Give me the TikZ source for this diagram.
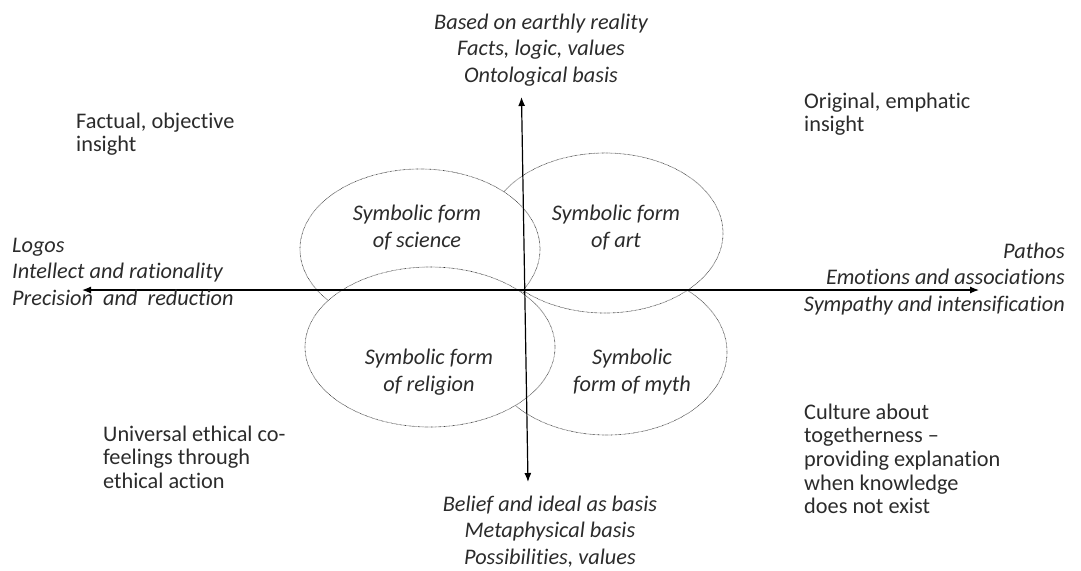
\documentclass[tikz,border=0pt]{standalone}
\usepackage{fontspec}
\setmainfont{Carlito}[Ligatures=NoCommon]
\usetikzlibrary{arrows.meta}
\definecolor{txt}{HTML}{2B2B2B}
\begin{document}
\begin{tikzpicture}[x=1pt,y=-1pt,
  lbl/.style={inner sep=0pt, text=txt, font=\fontsize{22.3}{23.7}\selectfont},
  ilbl/.style={inner sep=0pt, text=txt, font=\fontsize{22.3}{26.7}\selectfont\itshape},
  form/.style={draw=black!80, fill=white, line width=0.65pt, dash pattern=on 0.6pt off 0.7pt},
  formtxt/.style={inner sep=0pt, align=center, text=txt, font=\fontsize{22.3}{27}\selectfont\itshape},
  axis/.style={line width=1.2pt, {Latex[length=9pt,width=7pt]}-{Latex[length=9pt,width=7pt]}}]
\useasboundingbox (0,0) rectangle (1081,570);
% ellipses, stacked: myth, art, science, religion
\draw[form] (607,352) ellipse [x radius=120, y radius=83];
\node[formtxt] (myth) at (632,372) {Symbolic\\form of myth};
\draw[form] (605,233) ellipse [x radius=118, y radius=80];
\node[formtxt] (art) at (616,228) {Symbolic form\\of art};
\draw[form] (420,249) ellipse [x radius=120, y radius=80];
\node[formtxt] (sci) at (417,228) {Symbolic form\\of science};
\draw[form] (430,347) ellipse [x radius=125, y radius=80];
\node[formtxt] (rel) at (429,372) {Symbolic form\\of religion};
% axes
\coordinate (L) at (82,290);
\coordinate (R) at (979,290);
\coordinate (T) at (521.5,97);
\coordinate (B) at (528,482);
\draw[axis] (L) -- (R);
\draw[axis] (T) -- (B);
% axis labels
\node[ilbl, align=center, anchor=north] (top) at (541,13.5) {Based on earthly reality\\Facts, logic, values\\Ontological basis};
\node[ilbl, align=center, anchor=north] (bot) at (550,495.5) {Belief and ideal as basis\\Metaphysical basis\\Possibilities, values};
\node[ilbl, align=left, anchor=north west] (left) at (12,237.5) {Logos\\Intellect and rationality\\Precision\ \ and\ \ reduction};
\node[ilbl, align=right, anchor=north east] (right) at (1065,242.5) {Pathos\\Emotions and associations\\Sympathy and intensification};
% quadrant labels
\node[lbl, align=left, anchor=north west] (tl) at (76,112.5) {Factual, objective\\insight};
\node[lbl, align=left, anchor=north west] (tr) at (804,92.5) {Original, emphatic\\insight};
\node[lbl, align=left, anchor=north west] (bl) at (103,425.5) {Universal ethical co-\\feelings through\\ethical action};
\node[lbl, align=left, anchor=north west] (br) at (804,403.5) {Culture about\\togetherness --\\providing explanation\\when knowledge\\does not exist};
\end{tikzpicture}
\end{document}
